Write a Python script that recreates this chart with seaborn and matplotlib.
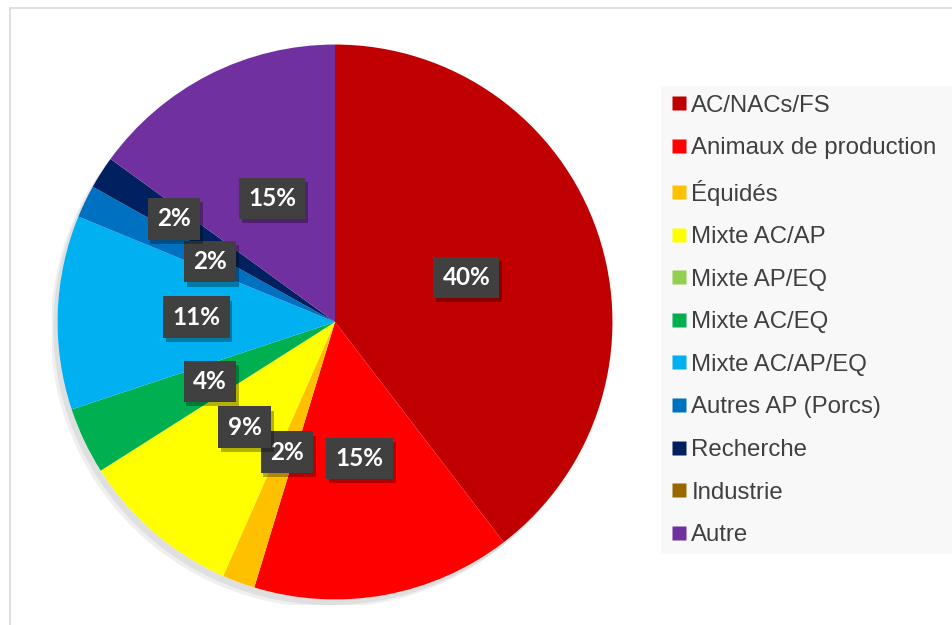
import numpy as np
import pandas as pd
import matplotlib
matplotlib.use("Agg")
import matplotlib.pyplot as plt
import matplotlib.patheffects as pe
from matplotlib.patches import Rectangle, Circle
from matplotlib.lines import Line2D
import seaborn as sns

categories = ["AC/NACs/FS", "Animaux de production", "Équidés", "Mixte AC/AP",
              "Mixte AP/EQ", "Mixte AC/EQ", "Mixte AC/AP/EQ", "Autres AP (Porcs)",
              "Recherche", "Industrie", "Autre"]
values = [39.6, 15.1, 1.9, 9.4, 0.0, 3.9, 11.3, 1.9, 1.9, 0.0, 15.0]
colors = ["#C00000", "#FF0000", "#FFC000", "#FFFF00", "#92D050", "#00B050",
          "#00B0F0", "#0070C0", "#002060", "#996600", "#7030A0"]
label_radius = [0.5, 0.5, 0.5, 0.5, 0.5, 0.5, 0.5, 0.5, 0.69, 0.5, 0.5]

df = pd.DataFrame({"cat": categories, "val": values, "color": colors})

sns.set_theme(style="white")
plt.rcParams["font.family"] = ["Liberation Sans", "DejaVu Sans"]

W, H = 952, 625
fig = plt.figure(figsize=(W / 100, H / 100), dpi=100)
fig.patch.set_facecolor("white")

# chart border
fig.patches.append(Rectangle((10 / W, -0.1), 1.2, (625 - 8) / H + 0.1, transform=fig.transFigure,
                             facecolor="none", edgecolor="#D9D9D9", linewidth=1.2, zorder=0))
# legend background
fig.patches.append(Rectangle((661 / W, 1 - 554 / H), 1.0, (554 - 86) / H, transform=fig.transFigure,
                             facecolor="#F8F8F8", edgecolor="none", zorder=0))

R = 283
cx, cy = 335, 322
ax = fig.add_axes([(cx - R) / W, (H - cy - R) / H, 2 * R / W, 2 * R / H])
wedges, _ = ax.pie(df["val"], colors=df["color"], startangle=90, counterclock=False,
                   radius=1.0, wedgeprops=dict(linewidth=0))
# soft shadow behind the whole pie
base = Circle((0, 0), 1.0, facecolor="white", edgecolor="none", zorder=0)
ax.add_patch(base)
base.set_path_effects([pe.SimplePatchShadow(offset=(-5, -6), shadow_rgbFace="#999999", alpha=0.15),
                       pe.SimplePatchShadow(offset=(-3, -4), shadow_rgbFace="#999999", alpha=0.18),
                       pe.Normal()])
for w in wedges:
    w.set_zorder(1)
ax.set_xlim(-1.02, 1.02)
ax.set_ylim(-1.02, 1.02)
ax.set_aspect("equal")
ax.axis("off")

total = df["val"].sum()
cum = 0.0
for v, r in zip(df["val"], label_radius):
    mid = cum + v / 2
    cum += v
    if v <= 0:
        continue
    ang = np.deg2rad(90 - 360 * mid / total)
    x, y = r * np.cos(ang), r * np.sin(ang)
    t = ax.text(x, y, f"{round(v / total * 100):.0f}%", ha="center", va="center",
                color="white", fontsize=17.5, fontweight="bold", family=["Lato", "DejaVu Sans"],
                bbox=dict(boxstyle="square,pad=0.38", facecolor="#404040", edgecolor="none"),
                zorder=5)
    t.get_bbox_patch().set_path_effects([pe.SimplePatchShadow(offset=(2, -3), shadow_rgbFace="black", alpha=0.3),
                                         pe.Normal()])

handles = [Line2D([0], [0], marker="s", linestyle="none", markersize=10,
                  markerfacecolor=c, markeredgecolor="none") for c in colors]
leg = fig.legend(handles, categories, loc="upper left",
                 bbox_to_anchor=(662 / W, 1 - 85 / H), frameon=False,
                 fontsize=17.3, handlelength=0.62, handletextpad=0.2,
                 labelspacing=0.855, borderaxespad=0)
for txt in leg.get_texts():
    txt.set_color("#404040")

fig.savefig("out.png", dpi=100, facecolor="white")
